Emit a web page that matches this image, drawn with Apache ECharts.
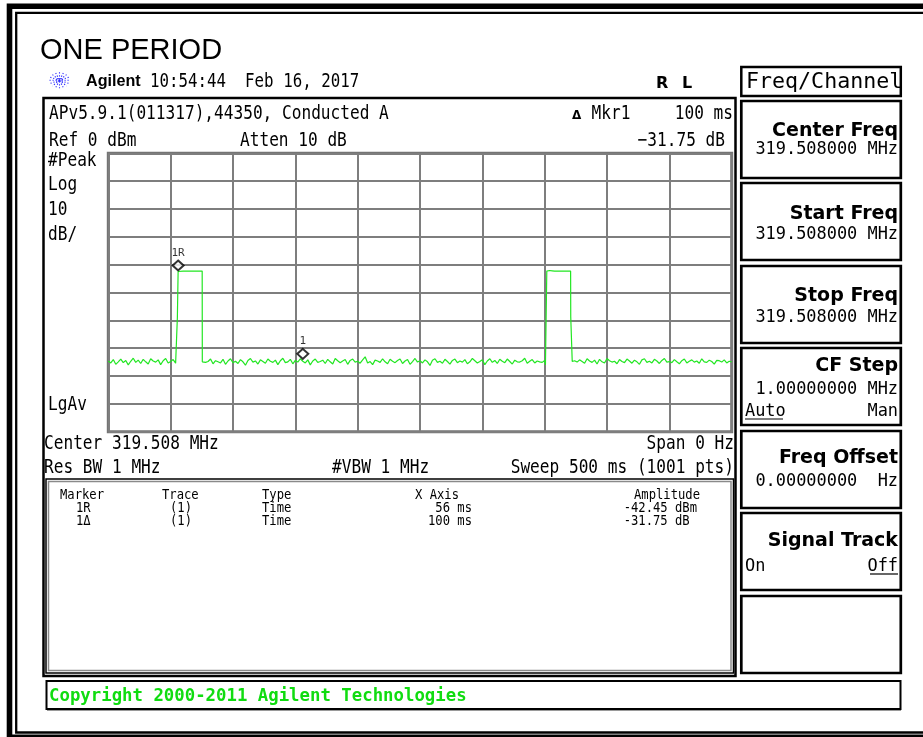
<!DOCTYPE html>
<html><head><meta charset="utf-8">
<script src="https://cdn.jsdelivr.net/npm/echarts@6/dist/echarts.min.js"></script>
<style>html,body{margin:0;padding:0;background:#fff}#c{width:923px;height:737px}</style>
</head><body><div id="c"></div>
<script>
// ---------- axis definitions ----------
const sweepStartMs = 0, sweepStopMs = 500, msPerDiv = 50;
const bottomDbm = -100, refLevelDbm = 0, dbPerDiv = 10;
const noiseStepMs = 2;

// ---------- trace values (dBm) ----------
const noiseAStartMs = 0;      // 0 .. 54 ms
const noiseA = [-74.6,-75.3,-74.1,-75.8,-74.9,-73.9,-75.2,-74.4,-76.0,-74.7,
  -73.6,-75.1,-74.3,-75.5,-74.0,-74.9,-75.7,-73.8,-74.6,-75.0,
  -74.2,-75.9,-74.5,-73.7,-75.3,-74.8,-74.1,-75.4];
const pulseA = [[55.3,-75.0],[55.4,-59.0],[55.9,-59.0],[56.0,-42.45],[60,-42.3],[66,-42.3],[72,-42.3],[75.3,-42.3],[75.4,-74.9]];
const noiseBStartMs = 76;     // 76 .. 350 ms
const noiseB = [-74.3,-75.1,-74.8,-73.9,-75.6,-74.5,-74.9,-75.3,-74.0,-75.8,
  -74.6,-73.8,-75.2,-74.7,-75.5,-74.1,-74.9,-76.1,-74.4,-73.7,
  -75.0,-74.6,-75.7,-74.2,-74.8,-75.4,-73.9,-74.7,-75.1,-74.3,
  -75.9,-74.5,-73.6,-75.2,-74.9,-74.0,-75.6,-74.4,-75.0,-73.8,
  -74.7,-75.3,-74.2,-76.0,-74.6,-73.9,-75.1,-74.8,-74.3,-75.5,
  -74.0,-74.9,-75.7,-73.7,-74.5,-75.2,-74.6,-74.1,-75.8,-74.4,
  -73.9,-75.0,-74.7,-75.4,-74.2,-73.1,-75.3,-74.8,-75.9,-74.3,
  -74.6,-75.1,-73.8,-74.9,-75.6,-74.0,-74.7,-75.2,-74.4,-73.9,
  -75.5,-74.6,-74.1,-75.8,-74.8,-73.7,-75.0,-74.5,-75.3,-74.2,
  -74.9,-76.2,-74.3,-73.8,-75.1,-74.7,-75.4,-74.0,-74.8,-75.7,
  -74.4,-73.9,-75.2,-74.6,-75.0,-74.1,-75.6,-74.9,-73.7,-74.5,
  -75.3,-74.8,-74.2,-75.9,-74.6,-73.8,-75.1,-74.4,-75.5,-74.0,
  -74.7,-75.2,-73.9,-74.8,-75.7,-74.3,-74.9,-75.0,-74.5,-73.6,
  -75.4,-74.7,-74.1,-75.3,-74.6,-74.9,-75.1,-74.4];
const pulseB = [[350.6,-76.0],[351.6,-75.6],[351.7,-42.3],[354,-42.1],[356,-42.2],[358,-42.3],[365,-42.3],[370.8,-42.3],[370.9,-58.7],[372.0,-58.7],[372.1,-74.8]];
const noiseCStartMs = 374;    // 374 .. 500 ms
const noiseC = [-74.5,-75.0,-74.2,-74.8,-75.4,-73.8,-74.6,-75.1,-74.3,-75.7,
  -74.0,-74.9,-75.3,-73.7,-74.5,-75.0,-74.7,-75.6,-74.1,-74.8,
  -75.2,-73.9,-74.6,-75.4,-74.3,-74.9,-75.8,-74.2,-73.8,-75.1,
  -74.7,-75.3,-74.0,-74.6,-75.5,-74.4,-73.7,-75.0,-74.8,-75.2,
  -74.1,-74.9,-75.6,-74.5,-73.9,-75.3,-74.7,-74.2,-75.0,-74.6,
  -75.4,-73.8,-74.9,-75.1,-74.3,-74.8,-75.7,-74.4,-74.5,-75.0,
  -74.2,-75.3,-74.7,-74.9];

// ---------- markers ----------
const markerNames = ['1R', '1'];
const markerMs = [56, 156];
const markerDbm = [-42.45, -74.2];

// ---------- table ----------
const tableHeader = ['Marker', 'Trace', 'Type', 'X Axis', 'Amplitude'];
const tableRows = [['1R', '(1)', 'Time', '56 ms', '-42.45 dBm'], ['1\u0394', '(1)', 'Time', '100 ms', '-31.75 dB ']];

// ---------- build trace ----------
function seg(start, vals) { return vals.map((v, i) => [start + i * noiseStepMs, v]); }
const trace = [].concat(seg(noiseAStartMs, noiseA), pulseA, seg(noiseBStartMs, noiseB), pulseB, seg(noiseCStartMs, noiseC));

// ---------- graphic helpers ----------
const MONO = '"DejaVu Sans Mono", monospace';
const SANS = '"DejaVu Sans", sans-serif';
const G = [];
function T(text, x, base, size, o) {
  o = o || {};
  const fam = o.family || MONO;
  G.push({ type: 'text', x: x, y: base - 0.31 * size, scaleX: o.sx || 1, z: 20,
    style: { text: text, font: (o.bold ? 'bold ' : '') + size + 'px ' + fam, fill: o.color || '#000',
      textAlign: o.align || 'left', align: o.align || 'left', textVerticalAlign: 'middle', verticalAlign: 'middle' } });
}
function R(x, y, w, h, lw, c) {
  G.push({ type: 'rect', z: 15, shape: { x: x, y: y, width: w, height: h }, style: { fill: 'none', stroke: c || '#000', lineWidth: lw } });
}
function L(x1, y1, x2, y2, lw, c, dash) {
  G.push({ type: 'line', z: 15, shape: { x1: x1, y1: y1, x2: x2, y2: y2 }, style: { stroke: c || '#000', lineWidth: lw, lineDash: dash || null } });
}

// outer frame
R(9.5, 6.3, 940, 731, 5.6);
R(16.2, 12.9, 930, 719.6, 2.3);

// title
T('ONE PERIOD', 40, 59.5, 29, { family: '"Liberation Sans", Arial, sans-serif' });

// agilent starburst
(function () {
  const cx = 59.5, cy = 80.3, rx = 10, ry = 8;
  for (let k = 0; k < 8; k++) {
    const a = k * Math.PI / 8;
    L(cx - rx * Math.cos(a), cy - ry * Math.sin(a), cx + rx * Math.cos(a), cy + ry * Math.sin(a), 1.1, '#2a2aff', [1.2, 1.8]);
  }
})();
T('Agilent', 86, 87, 17, { bold: true, family: '"Liberation Sans", Arial, sans-serif', sx: 0.95 });
T('10:54:44  Feb 16, 2017', 150, 87.5, 19.5, { sx: 0.81 });
T('R', 656, 89, 16, { bold: true, family: SANS });
T('L', 682, 89, 16, { bold: true, family: SANS });

// main display box
R(43.5, 98, 692, 578, 2.5);
T('APv5.9.1(011317),44350, Conducted A', 49, 120, 19.5, { sx: 0.827 });
T('Ref 0 dBm', 49, 146.5, 19.5, { sx: 0.827 });
T('Atten 10 dB', 240, 146.5, 19.5, { sx: 0.827 });
T('\u0394', 572, 120, 12, { bold: true, family: SANS });
T('Mkr1', 591.5, 120, 19.5, { sx: 0.827 });
T('100 ms', 733, 120, 19.5, { sx: 0.827, align: 'right' });
T('\u221231.75 dB', 725, 146.5, 19.5, { sx: 0.827, align: 'right' });
T('#Peak', 48, 167, 19.5, { sx: 0.827 });
T('Log', 48, 191, 19.5, { sx: 0.827 });
T('10', 48, 215.5, 19.5, { sx: 0.827 });
T('dB/', 48, 240.5, 19.5, { sx: 0.827 });
T('LgAv', 48, 410.5, 19.5, { sx: 0.827 });
T('Center 319.508 MHz', 44, 450, 19.5, { sx: 0.827 });
T('Span 0 Hz', 734, 450, 19.5, { sx: 0.827, align: 'right' });
T('Res BW 1 MHz', 44, 474, 19.5, { sx: 0.827 });
T('#VBW 1 MHz', 332, 474, 19.5, { sx: 0.827 });
T('Sweep 500 ms (1001 pts)', 734, 474, 19.5, { sx: 0.827, align: 'right' });

// marker table box
R(46, 479, 687.5, 194, 1.5);
R(48.5, 481.5, 682.5, 189, 1.5, '#8a8a8a');
const colX = [60, 162, 262, 415, 700];
const rowColX = [76, 170, 262, 472, 697];
const colAlign = ['left', 'left', 'left', 'left', 'right'];
const rowAlign = ['left', 'left', 'left', 'right', 'right'];
tableHeader.forEach((h, i) => T(h, colX[i], 500, 14.5, { sx: 0.84, align: colAlign[i] }));
tableRows.forEach((r, j) => r.forEach((c, i) => T(c, rowColX[i], 513 + 13 * j, 14.5, { sx: 0.84, align: rowAlign[i] })));

// softkeys
R(741.3, 67, 159.5, 29, 2.5);
T('Freq/Channel', 746, 89, 21, { sx: 1.03 });
const keyTops = [101, 183, 266, 348, 431, 513, 596];
keyTops.forEach(t => R(741.3, t, 159.5, 77, 2.7));
const KX = 898;
function key(i, title, tdy) { T(title, KX, keyTops[i] + tdy, 19, { bold: true, family: SANS, align: 'right' }); }
key(0, 'Center Freq', 35.5); T('319.508000 MHz', KX, keyTops[0] + 54, 18, { sx: 0.94, align: 'right' });
key(1, 'Start Freq', 36.5); T('319.508000 MHz', KX, keyTops[1] + 57, 18, { sx: 0.94, align: 'right' });
key(2, 'Stop Freq', 36); T('319.508000 MHz', KX, keyTops[2] + 57, 18, { sx: 0.94, align: 'right' });
key(3, 'CF Step', 24); T('1.00000000 MHz', KX, keyTops[3] + 47, 18, { sx: 0.94, align: 'right' });
T('Auto', 745, keyTops[3] + 68.5, 18, { sx: 0.94 }); L(745, keyTops[3] + 71, 783, keyTops[3] + 71, 1.2);
T('Man', KX, keyTops[3] + 68.5, 18, { sx: 0.94, align: 'right' });
key(4, 'Freq Offset', 33); T('0.00000000  Hz', KX, keyTops[4] + 55.5, 18, { sx: 0.94, align: 'right' });
key(5, 'Signal Track', 33.5); T('On', 745, keyTops[5] + 58.5, 18, { sx: 0.94 });
T('Off', KX, keyTops[5] + 58.5, 18, { sx: 0.94, align: 'right' }); L(870, keyTops[5] + 61, KX, keyTops[5] + 61, 1.2);

// copyright
R(46.5, 681, 854, 28, 2);
L(47, 710.5, 901, 710.5, 1.2, '#9a9a9a');
T('Copyright 2000-2011 Agilent Technologies', 49, 701.5, 17, { bold: true, color: '#10dc10', sx: 1.02 });

// ---------- chart ----------
const chart = echarts.init(document.getElementById('c'), null, { renderer: 'canvas', width: 923, height: 737 });
chart.setOption({
  backgroundColor: '#fff',
  animation: false,
  grid: { left: 108.3, top: 153.3, width: 623.4, height: 278.4, show: true, borderColor: '#747474', borderWidth: 3, backgroundColor: '#fff' },
  xAxis: { type: 'value', min: sweepStartMs, max: sweepStopMs, interval: msPerDiv,
    axisLine: { show: false }, axisTick: { show: false }, axisLabel: { show: false },
    splitLine: { show: true, lineStyle: { color: '#7e7e7e', width: 2 } } },
  yAxis: { type: 'value', min: bottomDbm, max: refLevelDbm, interval: dbPerDiv,
    axisLine: { show: false }, axisTick: { show: false }, axisLabel: { show: false },
    splitLine: { show: true, lineStyle: { color: '#7e7e7e', width: 2 } } },
  series: [
    { type: 'line', data: trace, showSymbol: false, symbol: 'none', lineStyle: { color: '#22e622', width: 1.2 }, z: 3, silent: true },
    { type: 'scatter', z: 5, symbol: 'diamond', symbolSize: [11, 10], symbolOffset: [0, -6],
      itemStyle: { color: '#fff', borderColor: '#000', borderWidth: 2 },
      label: { show: true, position: 'top', distance: 1, fontFamily: MONO, fontSize: 11, color: '#000',
        formatter: p => markerNames[p.dataIndex] },
      data: markerMs.map((t, i) => [t, markerDbm[i]]) }
  ],
  graphic: { elements: G }
});
</script></body></html>
